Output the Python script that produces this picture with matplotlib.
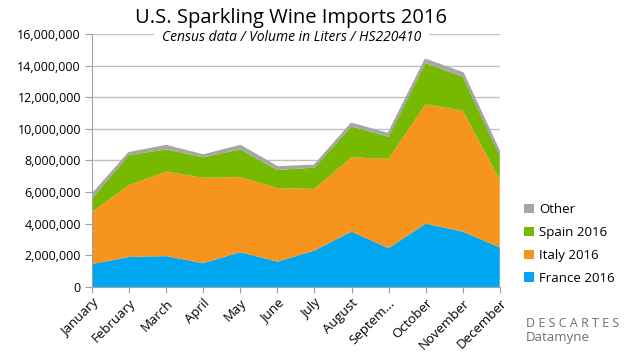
import matplotlib.pyplot as plt
import numpy as np

months = ['January', 'February', 'March', 'April', 'May', 'June', 'July',
          'August', 'Septem...', 'October', 'November', 'December']
france = [1.45, 1.9, 1.95, 1.5, 2.2, 1.6, 2.3, 3.5, 2.45, 4.0, 3.5, 2.5]
italy = [3.3, 4.55, 5.35, 5.4, 4.75, 4.65, 3.9, 4.7, 5.65, 7.55, 7.65, 4.3]
spain = [0.85, 1.9, 1.4, 1.3, 1.75, 1.15, 1.35, 1.95, 1.4, 2.6, 2.15, 1.5]
other = [0.2, 0.1, 0.2, 0.1, 0.2, 0.15, 0.1, 0.15, 0.15, 0.2, 0.2, 0.15]
series_names = ['France 2016', 'Italy 2016', 'Spain 2016', 'Other']
colors = ['#00A6F0', '#F7941D', '#76B900', '#A6A6A6']

plt.rcParams['font.family'] = ['Open Sans', 'DejaVu Sans']

fig = plt.figure(figsize=(6.35, 3.56), dpi=100)
ax = fig.add_axes([0.145, 0.194, 0.642, 0.7105])

x = np.arange(len(months))
vals = np.array([france, italy, spain, other]) * 1e6
ax.stackplot(x, vals, colors=colors, labels=series_names, zorder=2)
top = vals.sum(axis=0)
ax.plot(x, top, color='#A6A6A6', lw=2, zorder=3)

ax.set_xlim(0, 11)
ax.set_ylim(0, 16e6)
yt = np.arange(0, 16.1e6, 2e6)
ax.set_yticks(yt)
ax.set_yticklabels([f'{int(v):,}' for v in yt], fontsize=9)
ax.set_xticks(x)
ax.set_xticklabels(months, rotation=45, ha='right', rotation_mode='anchor', fontsize=9.5)
ax.grid(axis='y', color='#C0C0C0', lw=1, zorder=0)
for s in ['top', 'right']:
    ax.spines[s].set_visible(False)
for s in ['left', 'bottom']:
    ax.spines[s].set_color('#A0A0A0')
ax.tick_params(axis='y', length=5, color='#A0A0A0', pad=3)
ax.tick_params(axis='x', length=4, color='#A0A0A0', pad=3)

fig.text(0.459, 0.949, 'U.S. Sparkling Wine Imports 2016', ha='center', va='center',
         fontsize=14.5, zorder=5)
fig.text(0.459, 0.896, 'Census data / Volume in Liters / HS220410', ha='center',
         va='center', fontsize=10, style='italic', zorder=4,
         bbox=dict(facecolor='white', edgecolor='none', pad=6))

handles, labels = ax.get_legend_handles_labels()
fig.legend(handles[::-1], labels[::-1], loc='center left', bbox_to_anchor=(0.807, 0.315),
           frameon=False, fontsize=9.5, handlelength=0.7, handleheight=0.7,
           handletextpad=0.4, labelspacing=0.75)

fig.text(0.828, 0.09, 'D E S C A R T E S', fontsize=9, color='#6D6E71', va='center')
fig.text(0.828, 0.052, 'Datamyne', fontsize=9.5, color='#6D6E71', va='center')

fig.savefig('out.png', dpi=100)
